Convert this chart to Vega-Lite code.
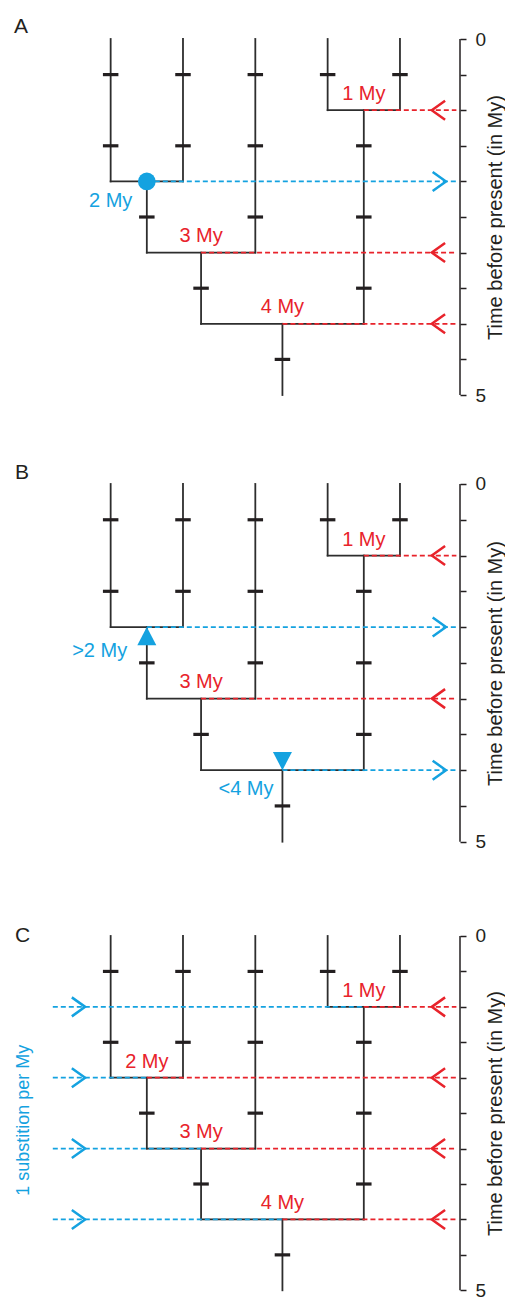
{
  "$schema": "https://vega.github.io/schema/vega-lite/v6.json",
  "padding": 0,
  "spacing": 0,
  "bounds": "flush",
  "config": {"view": {"stroke": null}, "font": "Liberation Sans"},
  "datasets": {
    "tree": [
      {"x": 1, "x2": 1, "t": 0, "t2": 2},
      {"x": 2, "x2": 2, "t": 0, "t2": 2},
      {"x": 3, "x2": 3, "t": 0, "t2": 3},
      {"x": 4, "x2": 4, "t": 0, "t2": 1},
      {"x": 5, "x2": 5, "t": 0, "t2": 1},
      {"x": 1, "x2": 2, "t": 2, "t2": 2},
      {"x": 4, "x2": 5, "t": 1, "t2": 1},
      {"x": 1.5, "x2": 1.5, "t": 2, "t2": 3},
      {"x": 4.5, "x2": 4.5, "t": 1, "t2": 4},
      {"x": 1.5, "x2": 3, "t": 3, "t2": 3},
      {"x": 2.25, "x2": 2.25, "t": 3, "t2": 4},
      {"x": 2.25, "x2": 4.5, "t": 4, "t2": 4},
      {"x": 3.375, "x2": 3.375, "t": 4, "t2": 5}
    ],
    "subs": [
      {"x": 1, "t": 0.5}, {"x": 1, "t": 1.5},
      {"x": 2, "t": 0.5}, {"x": 2, "t": 1.5},
      {"x": 3, "t": 0.5}, {"x": 3, "t": 1.5}, {"x": 3, "t": 2.5},
      {"x": 4, "t": 0.5}, {"x": 5, "t": 0.5},
      {"x": 1.5, "t": 2.5},
      {"x": 4.5, "t": 1.5}, {"x": 4.5, "t": 2.5}, {"x": 4.5, "t": 3.5},
      {"x": 2.25, "t": 3.5},
      {"x": 3.375, "t": 4.5}
    ],
    "spine": [{"x": 5.83, "t": 0, "t2": 5}],
    "dashes": [
      {"panel": "A", "kind": "calibrated", "x": 4.5, "x2": 5.78, "t": 1},
      {"panel": "A", "kind": "inferred", "x": 1.5, "x2": 5.78, "t": 2},
      {"panel": "A", "kind": "calibrated", "x": 2.25, "x2": 5.78, "t": 3},
      {"panel": "A", "kind": "calibrated", "x": 3.375, "x2": 5.78, "t": 4},
      {"panel": "B", "kind": "calibrated", "x": 4.5, "x2": 5.78, "t": 1},
      {"panel": "B", "kind": "inferred", "x": 1.5, "x2": 5.78, "t": 2},
      {"panel": "B", "kind": "calibrated", "x": 2.25, "x2": 5.78, "t": 3},
      {"panel": "B", "kind": "inferred", "x": 3.375, "x2": 5.78, "t": 4},
      {"panel": "C", "kind": "inferred", "x": 0.2, "x2": 4.5, "t": 1},
      {"panel": "C", "kind": "calibrated", "x": 4.5, "x2": 5.78, "t": 1},
      {"panel": "C", "kind": "inferred", "x": 0.2, "x2": 1.5, "t": 2},
      {"panel": "C", "kind": "calibrated", "x": 1.5, "x2": 5.78, "t": 2},
      {"panel": "C", "kind": "inferred", "x": 0.2, "x2": 2.25, "t": 3},
      {"panel": "C", "kind": "calibrated", "x": 2.25, "x2": 5.78, "t": 3},
      {"panel": "C", "kind": "inferred", "x": 0.2, "x2": 3.375, "t": 4},
      {"panel": "C", "kind": "calibrated", "x": 3.375, "x2": 5.78, "t": 4}
    ],
    "arrows": [
      {"panel": "A", "kind": "calibrated", "dir": "left", "x": 5.532, "t": 1},
      {"panel": "A", "kind": "inferred", "dir": "right", "x": 5.544, "t": 2},
      {"panel": "A", "kind": "calibrated", "dir": "left", "x": 5.532, "t": 3},
      {"panel": "A", "kind": "calibrated", "dir": "left", "x": 5.532, "t": 4},
      {"panel": "B", "kind": "calibrated", "dir": "left", "x": 5.532, "t": 1},
      {"panel": "B", "kind": "inferred", "dir": "right", "x": 5.544, "t": 2},
      {"panel": "B", "kind": "calibrated", "dir": "left", "x": 5.532, "t": 3},
      {"panel": "B", "kind": "inferred", "dir": "right", "x": 5.544, "t": 4},
      {"panel": "C", "kind": "calibrated", "dir": "left", "x": 5.532, "t": 1},
      {"panel": "C", "kind": "calibrated", "dir": "left", "x": 5.532, "t": 2},
      {"panel": "C", "kind": "calibrated", "dir": "left", "x": 5.532, "t": 3},
      {"panel": "C", "kind": "calibrated", "dir": "left", "x": 5.532, "t": 4},
      {"panel": "C", "kind": "inferred", "dir": "right", "x": 0.555, "t": 1},
      {"panel": "C", "kind": "inferred", "dir": "right", "x": 0.555, "t": 2},
      {"panel": "C", "kind": "inferred", "dir": "right", "x": 0.555, "t": 3},
      {"panel": "C", "kind": "inferred", "dir": "right", "x": 0.555, "t": 4}
    ],
    "markers": [
      {"panel": "A", "type": "estimate", "x": 1.5, "t": 2},
      {"panel": "B", "type": "minimum", "x": 1.5, "t": 2},
      {"panel": "B", "type": "maximum", "x": 3.375, "t": 4}
    ],
    "labels": [
      {"panel": "A", "kind": "calibrated", "x": 4.5, "t": 0.86, "text": "1 My"},
      {"panel": "A", "kind": "inferred", "x": 1.0, "t": 2.365, "text": "2 My"},
      {"panel": "A", "kind": "calibrated", "x": 2.25, "t": 2.85, "text": "3 My"},
      {"panel": "A", "kind": "calibrated", "x": 3.375, "t": 3.85, "text": "4 My"},
      {"panel": "B", "kind": "calibrated", "x": 4.5, "t": 0.87, "text": "1 My"},
      {"panel": "B", "kind": "inferred", "x": 0.848, "t": 2.42, "text": ">2 My"},
      {"panel": "B", "kind": "calibrated", "x": 2.25, "t": 2.855, "text": "3 My"},
      {"panel": "B", "kind": "inferred", "x": 2.871, "t": 4.347, "text": "<4 My"},
      {"panel": "C", "kind": "calibrated", "x": 4.5, "t": 0.865, "text": "1 My"},
      {"panel": "C", "kind": "calibrated", "x": 1.5, "t": 1.867, "text": "2 My"},
      {"panel": "C", "kind": "calibrated", "x": 2.25, "t": 2.855, "text": "3 My"},
      {"panel": "C", "kind": "calibrated", "x": 3.375, "t": 3.857, "text": "4 My"}
    ],
    "letters": [
      {"panel": "A", "x": -0.336, "t": -0.0885, "text": "A"},
      {"panel": "B", "x": -0.323, "t": -0.066, "text": "B"},
      {"panel": "C", "x": -0.323, "t": 0.08, "text": "C"}
    ],
    "side": [
      {"panel": "C", "kind": "inferred", "x": -0.198, "t": 2.6, "text": "1 substition per My"}
    ]
  },
  "vconcat": [
    {
      "width": 460,
      "height": 445,
      "encoding": {
        "x": {"field": "x", "type": "quantitative", "scale": {"domain": [-0.53, 5.83], "nice": false, "zero": false}, "axis": null},
        "y": {"field": "t", "type": "quantitative", "scale": {"domain": [-0.5478, 5.7022], "nice": false, "zero": false, "reverse": true},
          "axis": {"orient": "right", "values": [0, 0.5, 1, 1.5, 2, 2.5, 3, 3.5, 4, 4.5, 5], "domain": false, "grid": false, "tickSize": 6, "tickWidth": 1.5, "tickColor": "#231f20", "labelExpr": "datum.value == 0 ? '0' : datum.value == 5 ? '5' : ''", "labelFont": "Liberation Sans", "labelFontSize": 19, "labelColor": "#231f20", "labelPadding": 9, "labelBaseline": "middle", "labelAlign": "left", "labelOverlap": false, "labelBound": false, "labelFlush": false, "title": "Time before present (in My)", "titleFont": "Liberation Sans", "titleFontSize": 20, "titleFontWeight": "normal", "titleColor": "#231f20", "titleAngle": 270, "titleX": 35, "titleY": 217, "titleAlign": "center", "titleBaseline": "middle"}}
      },
      "layer": [
        {"data": {"name": "tree"}, "mark": {"type": "rule", "color": "#2d2d2d", "strokeWidth": 1.8, "strokeCap": "square"}, "encoding": {"x2": {"field": "x2"}, "y2": {"field": "t2"}}},
        {"data": {"name": "subs"}, "mark": {"type": "point", "shape": "M -1 0 L 1 0", "size": 240, "filled": false, "opacity": 1, "color": "#231f20", "strokeWidth": 3.2}},
        {"data": {"name": "dashes"}, "transform": [{"filter": "datum.panel == 'A'"}], "mark": {"type": "rule", "strokeWidth": 1.7, "strokeDash": [5, 3]}, "encoding": {"x2": {"field": "x2"}, "color": {"field": "kind", "type": "nominal", "scale": {"domain": ["calibrated", "inferred"], "range": ["#e8232b", "#14a2e0"]}, "legend": null}}},
        {"data": {"name": "arrows"}, "transform": [{"filter": "datum.panel == 'A' && datum.dir == 'left'"}], "mark": {"type": "point", "shape": "M 0.7 -1 L -0.7 0 L 0.7 1", "size": 361, "filled": false, "opacity": 1, "strokeWidth": 2.5}, "encoding": {"color": {"field": "kind", "type": "nominal", "legend": null}}},
        {"data": {"name": "arrows"}, "transform": [{"filter": "datum.panel == 'A' && datum.dir == 'right'"}], "mark": {"type": "point", "shape": "M -0.7 -1 L 0.7 0 L -0.7 1", "size": 361, "filled": false, "opacity": 1, "strokeWidth": 2.5}, "encoding": {"color": {"field": "kind", "type": "nominal", "legend": null}}},
        {"data": {"name": "markers"}, "transform": [{"filter": "datum.panel == 'A'"}], "mark": {"type": "point", "shape": "circle", "size": 314, "filled": true, "opacity": 1, "color": "#14a2e0"}},
        {"data": {"name": "labels"}, "transform": [{"filter": "datum.panel == 'A'"}], "mark": {"type": "text", "fontSize": 20, "font": "Liberation Sans", "align": "center", "baseline": "alphabetic"}, "encoding": {"text": {"field": "text"}, "color": {"field": "kind", "type": "nominal", "legend": null}}},
        {"data": {"name": "letters"}, "transform": [{"filter": "datum.panel == 'A'"}], "mark": {"type": "text", "fontSize": 21, "font": "Liberation Sans", "align": "left", "baseline": "alphabetic", "color": "#231f20"}, "encoding": {"text": {"field": "text"}}},
        {"data": {"name": "spine"}, "mark": {"type": "rule", "color": "#231f20", "strokeWidth": 1.5}, "encoding": {"y2": {"field": "t2"}}}
      ]
    },
    {
      "width": 460,
      "height": 450,
      "encoding": {
        "x": {"field": "x", "type": "quantitative", "scale": {"domain": [-0.53, 5.83], "nice": false, "zero": false}, "axis": null},
        "y": {"field": "t", "type": "quantitative", "scale": {"domain": [-0.5451, 5.745], "nice": false, "zero": false, "reverse": true},
          "axis": {"orient": "right", "values": [0, 0.5, 1, 1.5, 2, 2.5, 3, 3.5, 4, 4.5, 5], "domain": false, "grid": false, "tickSize": 6, "tickWidth": 1.5, "tickColor": "#231f20", "labelExpr": "datum.value == 0 ? '0' : datum.value == 5 ? '5' : ''", "labelFont": "Liberation Sans", "labelFontSize": 19, "labelColor": "#231f20", "labelPadding": 9, "labelBaseline": "middle", "labelAlign": "left", "labelOverlap": false, "labelBound": false, "labelFlush": false, "title": "Time before present (in My)", "titleFont": "Liberation Sans", "titleFontSize": 20, "titleFontWeight": "normal", "titleColor": "#231f20", "titleAngle": 270, "titleX": 35, "titleY": 218, "titleAlign": "center", "titleBaseline": "middle"}}
      },
      "layer": [
        {"data": {"name": "tree"}, "mark": {"type": "rule", "color": "#2d2d2d", "strokeWidth": 1.8, "strokeCap": "square"}, "encoding": {"x2": {"field": "x2"}, "y2": {"field": "t2"}}},
        {"data": {"name": "subs"}, "mark": {"type": "point", "shape": "M -1 0 L 1 0", "size": 240, "filled": false, "opacity": 1, "color": "#231f20", "strokeWidth": 3.2}},
        {"data": {"name": "dashes"}, "transform": [{"filter": "datum.panel == 'B'"}], "mark": {"type": "rule", "strokeWidth": 1.7, "strokeDash": [5, 3]}, "encoding": {"x2": {"field": "x2"}, "color": {"field": "kind", "type": "nominal", "scale": {"domain": ["calibrated", "inferred"], "range": ["#e8232b", "#14a2e0"]}, "legend": null}}},
        {"data": {"name": "arrows"}, "transform": [{"filter": "datum.panel == 'B' && datum.dir == 'left'"}], "mark": {"type": "point", "shape": "M 0.7 -1 L -0.7 0 L 0.7 1", "size": 361, "filled": false, "opacity": 1, "strokeWidth": 2.5}, "encoding": {"color": {"field": "kind", "type": "nominal", "legend": null}}},
        {"data": {"name": "arrows"}, "transform": [{"filter": "datum.panel == 'B' && datum.dir == 'right'"}], "mark": {"type": "point", "shape": "M -0.7 -1 L 0.7 0 L -0.7 1", "size": 361, "filled": false, "opacity": 1, "strokeWidth": 2.5}, "encoding": {"color": {"field": "kind", "type": "nominal", "legend": null}}},
        {"data": {"name": "markers"}, "transform": [{"filter": "datum.panel == 'B' && datum.type == 'minimum'"}], "mark": {"type": "point", "shape": "M 0 0 L 1 1.9 L -1 1.9 Z", "size": 361, "filled": true, "opacity": 1, "color": "#14a2e0"}},
        {"data": {"name": "markers"}, "transform": [{"filter": "datum.panel == 'B' && datum.type == 'maximum'"}], "mark": {"type": "point", "shape": "M 0 0 L 1 -1.9 L -1 -1.9 Z", "size": 361, "filled": true, "opacity": 1, "color": "#14a2e0"}},
        {"data": {"name": "labels"}, "transform": [{"filter": "datum.panel == 'B'"}], "mark": {"type": "text", "fontSize": 20, "font": "Liberation Sans", "align": "center", "baseline": "alphabetic"}, "encoding": {"text": {"field": "text"}, "color": {"field": "kind", "type": "nominal", "legend": null}}},
        {"data": {"name": "letters"}, "transform": [{"filter": "datum.panel == 'B'"}], "mark": {"type": "text", "fontSize": 21, "font": "Liberation Sans", "align": "left", "baseline": "alphabetic", "color": "#231f20"}, "encoding": {"text": {"field": "text"}}},
        {"data": {"name": "spine"}, "mark": {"type": "rule", "color": "#231f20", "strokeWidth": 1.5}, "encoding": {"y2": {"field": "t2"}}}
      ]
    },
    {
      "width": 460,
      "height": 402,
      "encoding": {
        "x": {"field": "x", "type": "quantitative", "scale": {"domain": [-0.53, 5.83], "nice": false, "zero": false}, "axis": null},
        "y": {"field": "t", "type": "quantitative", "scale": {"domain": [-0.5786, 5.0946], "nice": false, "zero": false, "reverse": true},
          "axis": {"orient": "right", "values": [0, 0.5, 1, 1.5, 2, 2.5, 3, 3.5, 4, 4.5, 5], "domain": false, "grid": false, "tickSize": 6, "tickWidth": 1.5, "tickColor": "#231f20", "labelExpr": "datum.value == 0 ? '0' : datum.value == 5 ? '5' : ''", "labelFont": "Liberation Sans", "labelFontSize": 19, "labelColor": "#231f20", "labelPadding": 9, "labelBaseline": "middle", "labelAlign": "left", "labelOverlap": false, "labelBound": false, "labelFlush": false, "title": "Time before present (in My)", "titleFont": "Liberation Sans", "titleFontSize": 20, "titleFontWeight": "normal", "titleColor": "#231f20", "titleAngle": 270, "titleX": 35, "titleY": 218, "titleAlign": "center", "titleBaseline": "middle"}}
      },
      "layer": [
        {"data": {"name": "tree"}, "mark": {"type": "rule", "color": "#2d2d2d", "strokeWidth": 1.8, "strokeCap": "square"}, "encoding": {"x2": {"field": "x2"}, "y2": {"field": "t2"}}},
        {"data": {"name": "subs"}, "mark": {"type": "point", "shape": "M -1 0 L 1 0", "size": 240, "filled": false, "opacity": 1, "color": "#231f20", "strokeWidth": 3.2}},
        {"data": {"name": "dashes"}, "transform": [{"filter": "datum.panel == 'C'"}], "mark": {"type": "rule", "strokeWidth": 1.7, "strokeDash": [5, 3]}, "encoding": {"x2": {"field": "x2"}, "color": {"field": "kind", "type": "nominal", "scale": {"domain": ["calibrated", "inferred"], "range": ["#e8232b", "#14a2e0"]}, "legend": null}}},
        {"data": {"name": "arrows"}, "transform": [{"filter": "datum.panel == 'C' && datum.dir == 'left'"}], "mark": {"type": "point", "shape": "M 0.7 -1 L -0.7 0 L 0.7 1", "size": 361, "filled": false, "opacity": 1, "strokeWidth": 2.5}, "encoding": {"color": {"field": "kind", "type": "nominal", "legend": null}}},
        {"data": {"name": "arrows"}, "transform": [{"filter": "datum.panel == 'C' && datum.dir == 'right'"}], "mark": {"type": "point", "shape": "M -0.7 -1 L 0.7 0 L -0.7 1", "size": 361, "filled": false, "opacity": 1, "strokeWidth": 2.5}, "encoding": {"color": {"field": "kind", "type": "nominal", "legend": null}}},
        {"data": {"name": "labels"}, "transform": [{"filter": "datum.panel == 'C'"}], "mark": {"type": "text", "fontSize": 20, "font": "Liberation Sans", "align": "center", "baseline": "alphabetic"}, "encoding": {"text": {"field": "text"}, "color": {"field": "kind", "type": "nominal", "legend": null}}},
        {"data": {"name": "side"}, "mark": {"type": "text", "fontSize": 18, "font": "Liberation Sans", "align": "center", "baseline": "middle", "angle": 270}, "encoding": {"text": {"field": "text"}, "color": {"field": "kind", "type": "nominal", "legend": null}}},
        {"data": {"name": "letters"}, "transform": [{"filter": "datum.panel == 'C'"}], "mark": {"type": "text", "fontSize": 21, "font": "Liberation Sans", "align": "left", "baseline": "alphabetic", "color": "#231f20"}, "encoding": {"text": {"field": "text"}}},
        {"data": {"name": "spine"}, "mark": {"type": "rule", "color": "#231f20", "strokeWidth": 1.5}, "encoding": {"y2": {"field": "t2"}}}
      ]
    }
  ]
}
